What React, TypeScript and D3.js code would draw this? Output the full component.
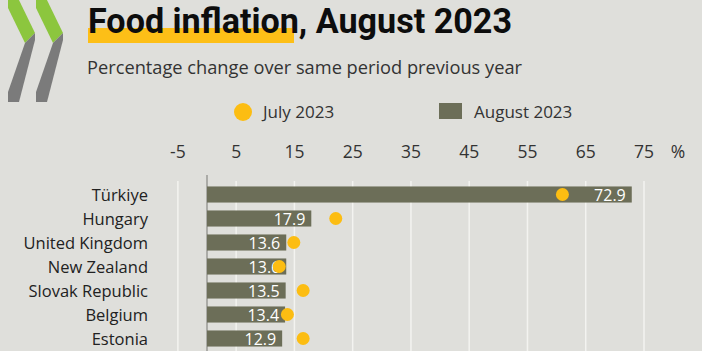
import React from "react";
import * as d3 from "d3";

const countries = ["Türkiye", "Hungary", "United Kingdom", "New Zealand", "Slovak Republic", "Belgium", "Estonia"];
const august2023 = [72.9, 17.9, 13.6, 13.6, 13.5, 13.4, 12.9];
const july2023 = [61.0, 22.1, 14.9, 12.4, 16.5, 13.8, 16.5];
const tickValues = [-5, 5, 15, 25, 35, 45, 55, 65, 75];

const W = 702;
const H = 351;
const BG = "#dfdfdb";
const BAR = "#6c6e58";
const DOT = "#fcbd12";
const FONT = "'Open Sans', 'Noto Sans', sans-serif";

export default function App() {
  const x = d3.scaleLinear().domain([0, 75]).range([207, 644]);
  const y = d3
    .scaleBand<string>()
    .domain(countries)
    .range([182.5, 182.5 + 24 * countries.length])
    .paddingInner(0.33)
    .paddingOuter(0.165);
  const bw = y.bandwidth();

  const chevron = (dx: number) => (
    <g key={dx} transform={`translate(${dx},0)`}>
      <polygon points="8,-2 18,-2 35,33 25,43 8,8" fill="#8cc63e" />
      <polygon points="25,43 35,33 35,40 19,102 8,102 8,92" fill="#7b7b7b" />
    </g>
  );

  return (
    <svg
      width={W}
      height={H}
      style={{ position: "fixed", left: 0, top: 0, background: BG }}
      fontFamily={FONT}
    >
      <rect x={0} y={0} width={W} height={H} fill={BG} />
      {chevron(0)}
      {chevron(28)}

      {/* title */}
      <rect x={88} y={28} width={206} height={15} fill="#fdbf17" />
      <text
        x={88}
        y={33}
        fontSize={35}
        fontWeight={700}
        fontFamily="Roboto, sans-serif"
        fill="#0d0d0d"
        textLength={424}
        lengthAdjust="spacingAndGlyphs"
      >
        Food inflation, August 2023
      </text>
      <text x={87} y={74} fontSize={18} fill="#333" textLength={435} lengthAdjust="spacingAndGlyphs">
        Percentage change over same period previous year
      </text>

      {/* legend */}
      <circle cx={243} cy={112} r={9} fill={DOT} />
      <text x={263} y={118} fontSize={17} fill="#333">July 2023</text>
      <rect x={439} y={103} width={23} height={16} fill={BAR} />
      <text x={474} y={118} fontSize={17} fill="#333">August 2023</text>

      {/* ticks */}
      {tickValues.map((t) => (
        <text key={`t${t}`} x={x(t)} y={158} fontSize={17.5} fill="#333" textAnchor="middle">
          {t}
        </text>
      ))}
      <text x={678} y={158} fontSize={17.5} fill="#333" textAnchor="middle">%</text>

      {/* gridlines */}
      {tickValues.map((t) => (
        <line key={`g${t}`} x1={x(t)} x2={x(t)} y1={181} y2={H} stroke="#f3f3f0" strokeWidth={1.5} />
      ))}
      <line x1={x(0)} x2={x(0)} y1={175} y2={H} stroke="#9a9a96" strokeWidth={1.5} />

      {/* bars */}
      {countries.map((c, i) => (
        <g key={c}>
          <text x={148} y={(y(c) as number) + bw / 2 + 6} fontSize={16.5} fill="#222" textAnchor="end">
            {c}
          </text>
          <rect x={x(0)} y={y(c)} width={x(august2023[i]) - x(0)} height={bw} fill={BAR} />
          <text
            x={x(august2023[i]) - 6}
            y={(y(c) as number) + bw / 2 + 6}
            fontSize={16}
            fill="#fff"
            textAnchor="end"
          >
            {august2023[i].toFixed(1)}
          </text>
          <circle cx={x(july2023[i])} cy={(y(c) as number) + bw / 2} r={6.5} fill={DOT} />
        </g>
      ))}
    </svg>
  );
}
